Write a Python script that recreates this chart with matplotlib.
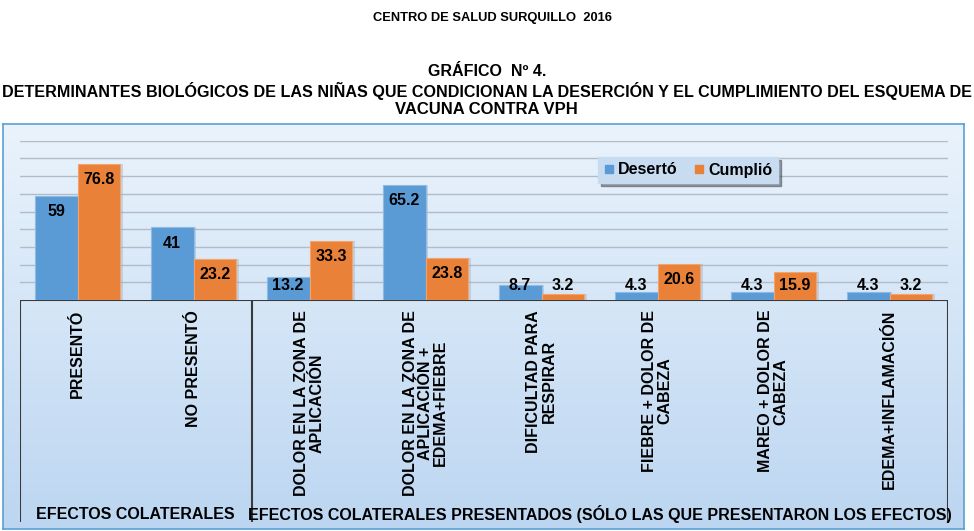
import matplotlib.pyplot as plt
import numpy as np
from matplotlib.lines import Line2D

plt.rcParams['font.family'] = ['Liberation Sans', 'DejaVu Sans']
plt.rcParams['font.weight'] = 'bold'

# datos del gráfico
categorias = ['PRESENTÓ', 'NO PRESENTÓ', 'DOLOR EN LA ZONA DE\nAPLICACIÓN',
              'DOLOR EN LA ZONA DE\nAPLICACIÓN +\nEDEMA+FIEBRE',
              'DIFICULTAD PARA\nRESPIRAR', 'FIEBRE + DOLOR DE\nCABEZA',
              'MAREO + DOLOR DE\nCABEZA', 'EDEMA+INFLAMACIÓN']
deserto = [59, 41, 13.2, 65.2, 8.7, 4.3, 4.3, 4.3]
cumplio = [76.8, 23.2, 33.3, 23.8, 3.2, 20.6, 15.9, 3.2]
etiquetas_deserto = ['59', '41', '13.2', '65.2', '8.7', '4.3', '4.3', '4.3']
etiquetas_cumplio = ['76.8', '23.2', '33.3', '23.8', '3.2', '20.6', '15.9', '3.2']
grupos = ['EFECTOS COLATERALES',
          'EFECTOS COLATERALES PRESENTADOS (SÓLO LAS QUE PRESENTARON LOS EFECTOS)']
series = ['Desertó', 'Cumplió']

W, H = 974, 531
fig = plt.figure(figsize=(W / 100, H / 100), dpi=100)


def caja(x0, y0, x1, y1):
    # convierte pixeles (origen arriba) a coordenadas de figura
    return [x0 / W, (H - y1) / H, (x1 - x0) / W, (y1 - y0) / H]


# títulos
fig.text(492 / W, 1 - 18 / H, 'CENTRO DE SALUD SURQUILLO  2016', ha='center', va='center',
         fontsize=9.3, fontweight='bold')
fig.text(487 / W, 1 - 72 / H, 'GRÁFICO  Nº 4.', ha='center', va='center',
         fontsize=11.5, fontweight='bold')
fig.text(487 / W, 1 - 91 / H,
         'DETERMINANTES BIOLÓGICOS DE LAS NIÑAS QUE CONDICIONAN LA DESERCIÓN Y EL CUMPLIMIENTO DEL ESQUEMA DE',
         ha='center', va='center', fontsize=11.6, fontweight='bold')
fig.text(486 / W, 1 - 109 / H, 'VACUNA CONTRA VPH', ha='center', va='center',
         fontsize=12, fontweight='bold')

# marco con degradado
bg = fig.add_axes(caja(3, 124, 964, 529))
grad = np.linspace(0, 1, 256).reshape(-1, 1)
top = np.array([0.918, 0.953, 0.988])
bot = np.array([0.737, 0.839, 0.945])
img = top[None, None, :] * (1 - grad[:, :, None]) + bot[None, None, :] * grad[:, :, None]
bg.imshow(img, aspect='auto', extent=[0, 1, 0, 1], origin='upper')
bg.set_xticks([])
bg.set_yticks([])
for s in bg.spines.values():
    s.set_color('#5b9fd0')
    s.set_linewidth(1.2)

# gráfico de barras
ax = fig.add_axes(caja(19.5, 140.7, 947.5, 300))
ax.patch.set_alpha(0)
x = np.arange(len(categorias))
w = 0.37
for yv in range(10, 100, 10):
    ax.axhline(yv, color='#b3bcc6', lw=1, zorder=0)
# sombra
ax.bar(x - w / 2 + 0.02, deserto, w, color='#8fa4b8', alpha=0.35, zorder=1)
ax.bar(x + w / 2 + 0.02, cumplio, w, color='#8fa4b8', alpha=0.35, zorder=1)
ax.bar(x - w / 2, deserto, w, color='#5b9bd5', edgecolor='#8dbbe6', lw=0.8, zorder=2, label=series[0])
ax.bar(x + w / 2, cumplio, w, color='#ea8139', edgecolor='#f3a46c', lw=0.8, zorder=2, label=series[1])
for i in range(len(categorias)):
    ax.text(x[i] - w / 2, max(deserto[i] - 9, 8.3), etiquetas_deserto[i], ha='center', va='center',
            fontsize=11.5, fontweight='bold', zorder=3)
    ax.text(x[i] + w / 2, max(cumplio[i] - 9, 8.3), etiquetas_cumplio[i], ha='center', va='center',
            fontsize=11.5, fontweight='bold', zorder=3)
ax.set_xlim(-0.5, len(categorias) - 0.5)
ax.set_ylim(0, 90)
ax.axis('off')

# leyenda
handles = [Line2D([], [], marker='s', ls='', color='#5b9bd5', markersize=6),
           Line2D([], [], marker='s', ls='', color='#ea8139', markersize=6)]
leg = fig.legend(handles, series, ncol=2, loc='center', bbox_to_anchor=(688 / W, 1 - 170 / H),
                 fontsize=11.5, frameon=True, fancybox=False, shadow=True, handlelength=0.6,
                 handletextpad=0.3, columnspacing=1.0, borderpad=0.35)
leg.get_frame().set_facecolor('#c8dcf1')
leg.get_frame().set_edgecolor('#c8dcf1')

# eje de categorías
cax = fig.add_axes(caja(19.5, 300, 947.5, 522))
cax.patch.set_alpha(0)
cax.set_xlim(-0.5, len(categorias) - 0.5)
cax.set_ylim(0, 1)
cax.axis('off')
cax.plot([-0.5, len(categorias) - 0.5], [1, 1], color='#3a3a3a', lw=1.5)
for xv in [-0.5, 1.5, len(categorias) - 0.5]:
    cax.plot([xv, xv], [0, 1], color='#3a3a3a', lw=1.5)
for i, c in enumerate(categorias):
    cax.text(x[i], 0.955, c, rotation=90, ha='center', va='top', multialignment='center',
             fontsize=11.5, fontweight='bold', linespacing=1.0)
cax.text(0.5, 0.036, grupos[0], ha='center', va='center', fontsize=11.5, fontweight='bold')
cax.text(4.5, 0.036, grupos[1], ha='center', va='center', fontsize=11.5, fontweight='bold')

fig.savefig('out.png', dpi=100)
